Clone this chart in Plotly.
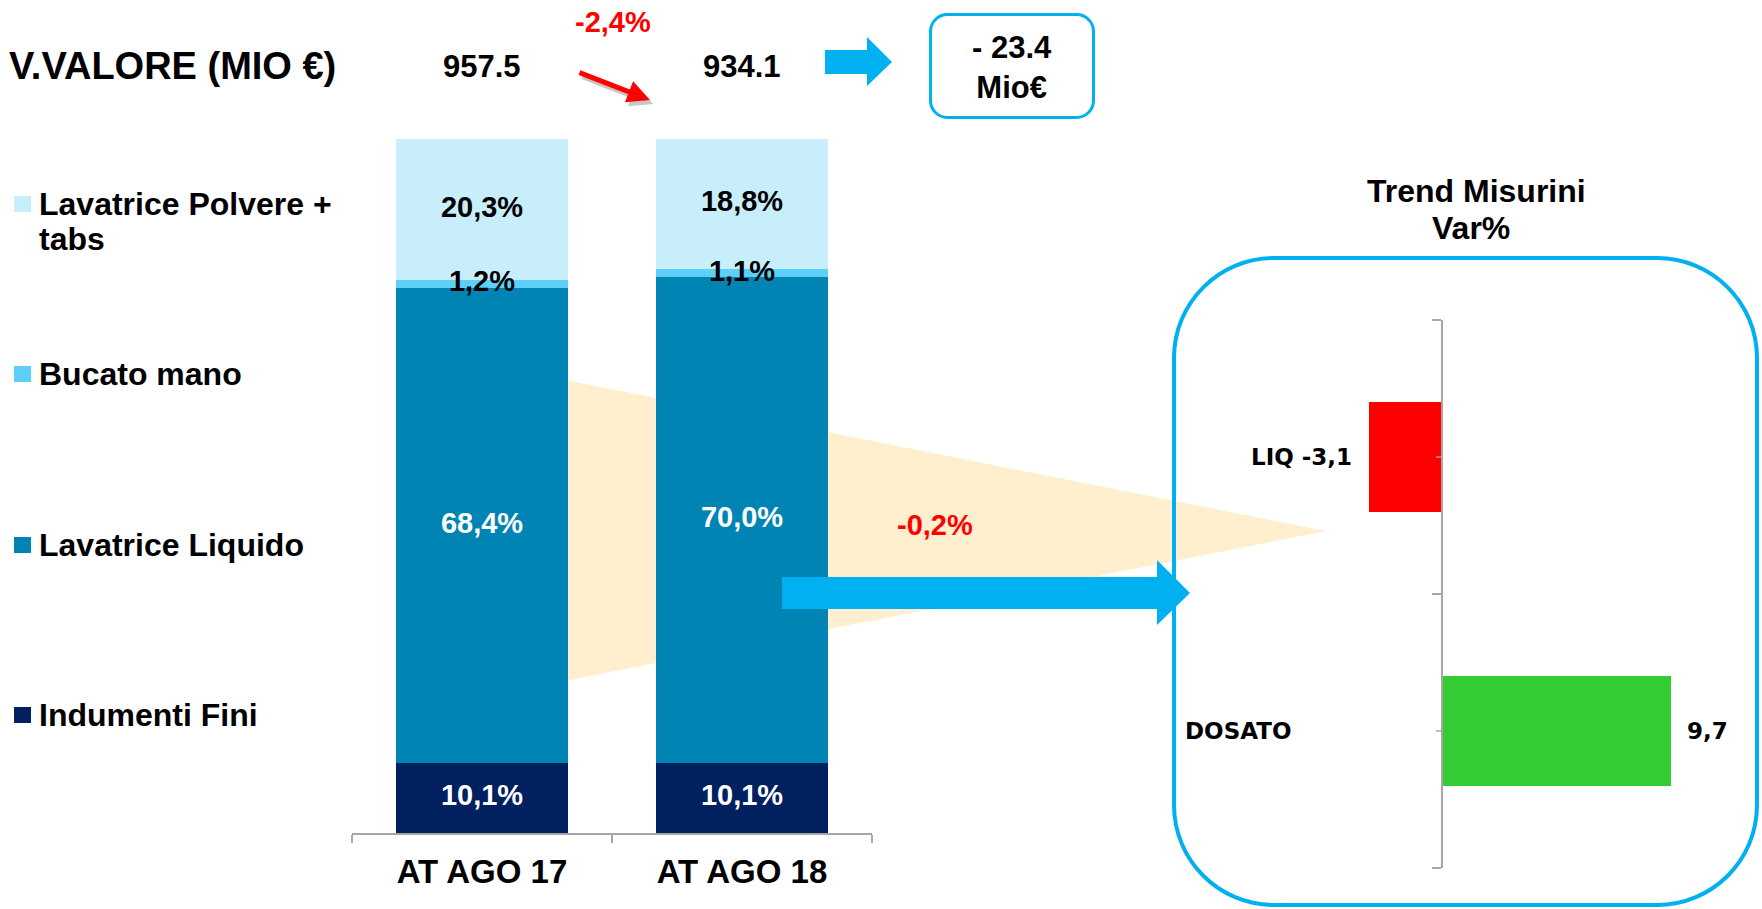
import plotly.graph_objects as go

# ---------------- data ----------------
periods = ["AT AGO 17", "AT AGO 18"]
totals_mio = [957.5, 934.1]
series_names = ["Indumenti Fini", "Lavatrice Liquido", "Bucato mano", "Lavatrice Polvere + tabs"]
indumenti_fini = [10.1, 10.1]
lavatrice_liquido = [68.4, 70.0]
bucato_mano = [1.2, 1.1]
lavatrice_polvere = [20.3, 18.8]
var_totale_pct = -2.4
var_liquido_pct = -0.2
misurini_cats = ["LIQ", "DOSATO"]
misurini_var = [-3.1, 9.7]

# ---------------- style ----------------
W, H = 1762, 909
ARIAL = "Liberation Sans, Arial, sans-serif"
VERD = "DejaVu Sans, Verdana, sans-serif"
BLUE = "#00B0F0"
GRAY = "#A6A6A6"
seg_colors = ["#002060", "#0084B4", "#5DD0F8", "#C8EEFC"]
seg_label_colors = ["white", "white", "black", "black"]


def px(x):
    return x / W


def py(y):
    return 1 - y / H


def fmt(v):
    return f"{v:.1f}".replace(".", ",")


def poly(points):
    return "M " + " L ".join(f"{px(x):.5f},{py(y):.5f}" for x, y in points) + " Z"


def rrect(x0, y0, x1, y1, r):
    k = 0.5523 * r
    P = lambda x, y: f"{px(x):.5f},{py(y):.5f}"
    return (f"M {P(x0 + r, y0)} L {P(x1 - r, y0)} "
            f"C {P(x1 - r + k, y0)} {P(x1, y0 + r - k)} {P(x1, y0 + r)} "
            f"L {P(x1, y1 - r)} "
            f"C {P(x1, y1 - r + k)} {P(x1 - r + k, y1)} {P(x1 - r, y1)} "
            f"L {P(x0 + r, y1)} "
            f"C {P(x0 + r - k, y1)} {P(x0, y1 - r + k)} {P(x0, y1 - r)} "
            f"L {P(x0, y0 + r)} "
            f"C {P(x0, y0 + r - k)} {P(x0 + r - k, y0)} {P(x0 + r, y0)} Z")


fig = go.Figure()

series = [indumenti_fini, lavatrice_liquido, bucato_mano, lavatrice_polvere]
for name, vals, c in zip(series_names, series, seg_colors):
    fig.add_bar(x=periods, y=vals, name=name, marker_color=c, marker_line_width=0,
                width=0.66, xaxis="x", yaxis="y", showlegend=False)

base = [0.0] * len(periods)
for name, vals, lc in zip(series_names, series, seg_label_colors):
    centers = [b + v / 2 for b, v in zip(base, vals)]
    fig.add_scatter(x=periods, y=centers, mode="text", text=[fmt(v) + "%" for v in vals],
                    textfont=dict(size=29, color=lc, family=ARIAL, weight="bold"),
                    showlegend=False, cliponaxis=False, hoverinfo="skip", xaxis="x", yaxis="y")
    base = [b + v for b, v in zip(base, vals)]

fig.add_bar(x=misurini_var, y=misurini_cats, orientation="h", width=0.4,
            marker_color=["#FF0000" if v < 0 else "#33CC33" for v in misurini_var],
            marker_line_width=0, xaxis="x2", yaxis="y2", showlegend=False)

# right chart scale
unit_px = 23.6
x2_left, x2_right, x2_zero = 1174, 1757, 1442
r0 = -(x2_zero - x2_left) / unit_px
r1 = (x2_right - x2_zero) / unit_px
d0, d1 = px(x2_left), px(x2_right)
y2_pos = d0 + (0 - r0) / (r1 - r0) * (d1 - d0)

shapes = []
# tan funnel behind bars
shapes.append(dict(type="path", xref="paper", yref="paper", layer="below",
                   path=poly([(565, 380), (1326, 531), (565, 681)]),
                   fillcolor="#FFEFCE", line=dict(width=0)))
# right rounded box
shapes.append(dict(type="path", xref="paper", yref="paper", layer="above",
                   path=rrect(1174, 258, 1757, 905, 100),
                   fillcolor="rgba(0,0,0,0)", line=dict(color=BLUE, width=4)))
# small rounded box
shapes.append(dict(type="path", xref="paper", yref="paper", layer="above",
                   path=rrect(930.5, 14.5, 1093.5, 117.5, 17),
                   fillcolor="rgba(0,0,0,0)", line=dict(color=BLUE, width=3)))
# small block arrow
shapes.append(dict(type="path", xref="paper", yref="paper", layer="above",
                   path=poly([(825, 50), (867, 50), (867, 37), (892, 62), (867, 86), (867, 74), (825, 74)]),
                   fillcolor=BLUE, line=dict(width=0)))
# big block arrow
shapes.append(dict(type="path", xref="paper", yref="paper", layer="above",
                   path=poly([(782, 577), (1157, 577), (1157, 560), (1190, 593), (1157, 625), (1157, 609), (782, 609)]),
                   fillcolor=BLUE, line=dict(width=0)))
# centre ticks on the misurini axis
for cat in misurini_cats:
    shapes.append(dict(type="line", xref="x2", yref="y2", xsizemode="pixel", xanchor=0,
                       x0=-6, x1=0, y0=cat, y1=cat, line=dict(color=GRAY, width=1.5)))

# manual legend
legend_y = [204, 374, 545, 715]
legend_line_gap = 35
ann = []
for name, c, yc in zip(series_names[::-1], seg_colors[::-1], legend_y):
    shapes.append(dict(type="rect", xref="paper", yref="paper",
                       x0=px(14), x1=px(31), y0=py(yc + 8), y1=py(yc - 8),
                       fillcolor=c, line=dict(width=0)))
    for i, line in enumerate(name.replace("+ ", "+\n").split("\n")):
        ann.append(dict(xref="paper", yref="paper", x=px(37), y=py(yc + i * legend_line_gap),
                        text=line, showarrow=False, xanchor="left", yanchor="middle", align="left",
                        font=dict(family=ARIAL, size=32, color="black", weight="bold")))

ann.append(dict(xref="paper", yref="paper", x=px(7), y=py(66), text="V.VALORE (MIO €)",
                showarrow=False, xanchor="left", yanchor="middle",
                font=dict(family=ARIAL, size=38, color="black", weight="bold")))
for p, t in zip(periods, totals_mio):
    ann.append(dict(xref="x", yref="paper", x=p, y=py(67), text=f"{t:.1f}", showarrow=False,
                    xanchor="center", yanchor="middle",
                    font=dict(family=ARIAL, size=31, color="black", weight="bold")))
diff = totals_mio[1] - totals_mio[0]
ann.append(dict(xref="paper", yref="paper", x=px(1012), y=py(68), text=f"- {abs(diff):.1f}<br>Mio€",
                showarrow=False, xanchor="center", yanchor="middle",
                font=dict(family=ARIAL, size=31, color="black", weight="bold")))
ann.append(dict(xref="paper", yref="paper", x=px(613), y=py(22), text=fmt(var_totale_pct) + "%",
                showarrow=False, xanchor="center", yanchor="middle",
                font=dict(family=ARIAL, size=29, color="#FF0000", weight="bold")))
ann.append(dict(xref="paper", yref="paper", x=px(935), y=py(525), text=fmt(var_liquido_pct) + "%",
                showarrow=False, xanchor="center", yanchor="middle",
                font=dict(family=ARIAL, size=29, color="#FF0000", weight="bold")))
# red arrow with shadow
ann.append(dict(xref="paper", yref="paper", x=px(653), y=py(104), ax=-72, ay=-28, axref="pixel", ayref="pixel",
                text="", showarrow=True, arrowhead=2, arrowwidth=5, arrowsize=0.9,
                arrowcolor="rgba(0,0,0,0.22)"))
ann.append(dict(xref="paper", yref="paper", x=px(650), y=py(100), ax=-72, ay=-28, axref="pixel", ayref="pixel",
                text="", showarrow=True, arrowhead=2, arrowwidth=5, arrowsize=0.9,
                arrowcolor="#FF0000"))
# right chart title
ann.append(dict(xref="paper", yref="paper", x=px(1476), y=py(191), text="Trend Misurini",
                showarrow=False, xanchor="center", yanchor="middle",
                font=dict(family=ARIAL, size=32, color="black", weight="bold")))
ann.append(dict(xref="paper", yref="paper", x=px(1471), y=py(228), text="Var%",
                showarrow=False, xanchor="center", yanchor="middle",
                font=dict(family=ARIAL, size=32, color="black", weight="bold")))
# misurini labels
for cat, v in zip(misurini_cats, misurini_var):
    if v < 0:
        ann.append(dict(xref="x2", yref="y2", x=v, y=cat, text=f"{cat} {fmt(v)}", showarrow=False,
                        xanchor="right", yanchor="middle", xshift=-15,
                        font=dict(family=VERD, size=23, color="black", weight="bold")))
    else:
        ann.append(dict(xref="x2", yref="y2", x=v, y=cat, text=fmt(v), showarrow=False,
                        xanchor="left", yanchor="middle", xshift=14,
                        font=dict(family=VERD, size=23, color="black", weight="bold")))
        ann.append(dict(xref="paper", yref="y2", x=px(1183), y=cat, text=cat, showarrow=False,
                        xanchor="left", yanchor="middle",
                        font=dict(family=VERD, size=23, color="black", weight="bold")))

fig.update_layout(
    width=W, height=H, margin=dict(l=0, r=0, t=0, b=0),
    paper_bgcolor="white", plot_bgcolor="rgba(0,0,0,0)",
    barmode="stack", showlegend=False,
    xaxis=dict(domain=[px(352), px(872)], type="category", range=[-0.5, 1.5], anchor="y",
               showline=True, linecolor=GRAY, linewidth=1.5, ticks="outside", tickson="boundaries",
               ticklen=8, tickcolor=GRAY, tickwidth=1.5, showgrid=False, zeroline=False,
               tickfont=dict(family=ARIAL, size=33, color="black", weight="bold"),
               ticklabelstandoff=9),
    yaxis=dict(domain=[py(833), py(139)], range=[0, 100], visible=False, anchor="x"),
    xaxis2=dict(domain=[d0, d1], range=[r0, r1], visible=False, anchor="y2"),
    yaxis2=dict(domain=[py(868), py(320)], type="category", categoryorder="array",
                categoryarray=misurini_cats[::-1], range=[-0.5, 1.5], anchor="free", position=y2_pos,
                showline=True, linecolor=GRAY, linewidth=1.5, ticks="outside", tickson="boundaries",
                ticklen=9, tickcolor=GRAY, tickwidth=1.5, showticklabels=False, showgrid=False,
                zeroline=False),
    shapes=shapes, annotations=ann,
)

fig.write_html("out.html", config={"displayModeBar": False},
               post_script="document.body.style.margin='0px';")
